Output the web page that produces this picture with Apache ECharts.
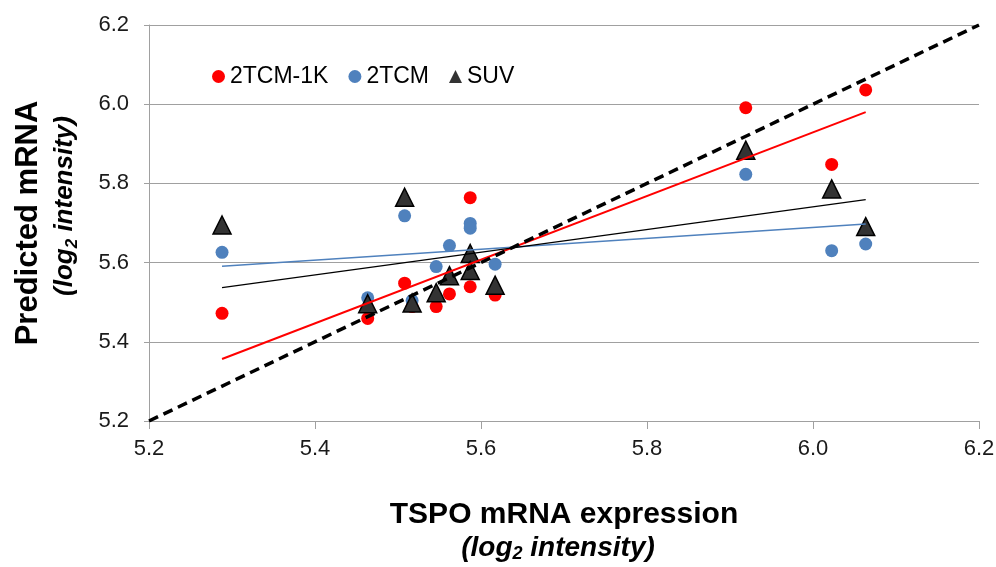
<!DOCTYPE html>
<html>
<head>
<meta charset="utf-8">
<script src="https://cdn.jsdelivr.net/npm/echarts@6/dist/echarts.min.js"></script>
<style>
html,body{margin:0;padding:0;background:#fff;}
#chart{width:996px;height:567px;}
</style>
</head>
<body>
<div id="chart"></div>
<script>
// TSPO mRNA expression (x) for each sample
const tspo = [5.288, 5.4635, 5.508, 5.517, 5.546, 5.562, 5.587, 5.587, 5.617, 5.919, 6.0225, 6.0635];
// Predicted mRNA per model
const pred2TCM1K = [5.472, 5.459, 5.548, 5.489, 5.489, 5.521, 5.764, 5.539, 5.518, 5.991, 5.848, 6.036];
const pred2TCM   = [5.626, 5.511, 5.718, 5.504, 5.590, 5.643, 5.699, 5.687, 5.596, 5.823, 5.630, 5.647];
const predSUV    = [5.695, 5.496, 5.765, 5.498, 5.524, 5.567, 5.623, 5.580, 5.543, 5.884, 5.786, 5.691];
const seriesNames = ['2TCM-1K', '2TCM', 'SUV'];
const identityLine = [[5.2, 5.2], [6.2, 6.2]];
const axisMin = 5.2, axisMax = 6.2, axisStep = 0.2;

function pairs(xs, ys) { return xs.map((x, i) => [x, ys[i]]); }
function trend(xs, ys) {
  const n = xs.length;
  const mx = xs.reduce((a, b) => a + b, 0) / n;
  const my = ys.reduce((a, b) => a + b, 0) / n;
  let sxy = 0, sxx = 0;
  for (let i = 0; i < n; i++) { sxy += (xs[i] - mx) * (ys[i] - my); sxx += (xs[i] - mx) ** 2; }
  const b = sxy / sxx, a = my - b * mx;
  const x0 = Math.min(...xs), x1 = Math.max(...xs);
  return [[x0, a + b * x0], [x1, a + b * x1]];
}

const FONT = "'Liberation Sans', Arial, sans-serif";
const chart = echarts.init(document.getElementById('chart'));
chart.setOption({
  animation: false,
  backgroundColor: '#fff',
  grid: { left: 149, right: 17, top: 25, bottom: 146, outerBoundsMode: 'none', containLabel: false },
  legend: {
    data: [
      { name: seriesNames[0], icon: 'circle' },
      { name: seriesNames[1], icon: 'circle' },
      { name: seriesNames[2], icon: 'triangle', itemStyle: { color: '#333', borderWidth: 0 } }
    ],
    left: 207, top: 60,
    itemWidth: 13, itemHeight: 13, itemGap: 20,
    textStyle: { fontFamily: FONT, fontSize: 23, color: '#000' }
  },
  xAxis: {
    type: 'value', min: axisMin, max: axisMax, interval: axisStep,
    axisLine: { show: true, lineStyle: { color: '#a0a0a0', width: 1 } },
    axisTick: { show: true, length: 8, lineStyle: { color: '#a0a0a0' } },
    splitLine: { show: false },
    axisLabel: { margin: 17, fontFamily: FONT, fontSize: 22, color: '#1a1a1a', formatter: v => v.toFixed(1) },
    name: '{t|TSPO mRNA expression}\n{s|(log}{sub|2}{s1| intensity)}',
    nameLocation: 'middle', nameGap: 76,
    nameTextStyle: {
      rich: {
        t: { fontFamily: FONT, fontSize: 30, fontWeight: 'bold', color: '#000', lineHeight: 36 },
        s: { fontFamily: FONT, fontSize: 28, fontWeight: 'bold', fontStyle: 'italic', color: '#000', lineHeight: 30 },
        s1: { fontFamily: FONT, fontSize: 28, fontWeight: 'bold', fontStyle: 'italic', color: '#000', lineHeight: 30, padding: [0, 12, 0, 0] },
        sub: { fontFamily: FONT, fontSize: 18, fontWeight: 'bold', fontStyle: 'italic', color: '#000', lineHeight: 30, verticalAlign: 'bottom', padding: [10, 0, 0, 0] }
      }
    }
  },
  yAxis: {
    type: 'value', min: axisMin, max: axisMax, interval: axisStep,
    axisLine: { show: true, lineStyle: { color: '#a0a0a0', width: 1 } },
    axisTick: { show: true, length: 5, lineStyle: { color: '#a0a0a0' } },
    splitLine: { show: true, lineStyle: { color: '#a0a0a0', width: 1 } },
    axisLabel: { margin: 20, fontFamily: FONT, fontSize: 22, color: '#1a1a1a', formatter: v => v.toFixed(1) },
    name: '{t|Predicted mRNA}\n{s0|(log}{sub|2}{s| intensity)}',
    nameLocation: 'middle', nameGap: 68, nameRotate: 90,
    nameTextStyle: {
      rich: {
        t: { fontFamily: FONT, fontSize: 31, fontWeight: 'bold', color: '#000', lineHeight: 42 },
        s0: { fontFamily: FONT, fontSize: 26, fontWeight: 'bold', fontStyle: 'italic', color: '#000', lineHeight: 32, padding: [0, 0, 0, 34] },
        s: { fontFamily: FONT, fontSize: 26, fontWeight: 'bold', fontStyle: 'italic', color: '#000', lineHeight: 32 },
        sub: { fontFamily: FONT, fontSize: 17, fontWeight: 'bold', fontStyle: 'italic', color: '#000', lineHeight: 32, verticalAlign: 'bottom' }
      }
    }
  },
  series: [
    { name: seriesNames[0], type: 'scatter', symbol: 'circle', symbolSize: 13, z: 2,
      itemStyle: { color: '#ff0000', opacity: 1 }, data: pairs(tspo, pred2TCM1K) },
    { name: seriesNames[1], type: 'scatter', symbol: 'circle', symbolSize: 13, z: 3,
      itemStyle: { color: '#4f81bd', opacity: 1 }, data: pairs(tspo, pred2TCM) },
    { name: seriesNames[2], type: 'scatter', symbol: 'triangle', symbolSize: 18, z: 4,
      itemStyle: { color: '#333333', borderColor: '#000', borderWidth: 1.5, opacity: 1 }, data: pairs(tspo, predSUV) },
    { name: 'trend-2TCM-1K', type: 'line', showSymbol: false, z: 5, silent: true,
      lineStyle: { color: '#ff0000', width: 2 }, data: trend(tspo, pred2TCM1K) },
    { name: 'trend-2TCM', type: 'line', showSymbol: false, z: 5, silent: true,
      lineStyle: { color: '#4f81bd', width: 1.5 }, data: trend(tspo, pred2TCM) },
    { name: 'trend-SUV', type: 'line', showSymbol: false, z: 5, silent: true,
      lineStyle: { color: '#000', width: 1.2 }, data: trend(tspo, predSUV) },
    { name: 'identity', type: 'line', showSymbol: false, z: 6, silent: true,
      lineStyle: { color: '#000', width: 3.5, type: [10, 6] }, data: identityLine }
  ]
});
</script>
</body>
</html>
